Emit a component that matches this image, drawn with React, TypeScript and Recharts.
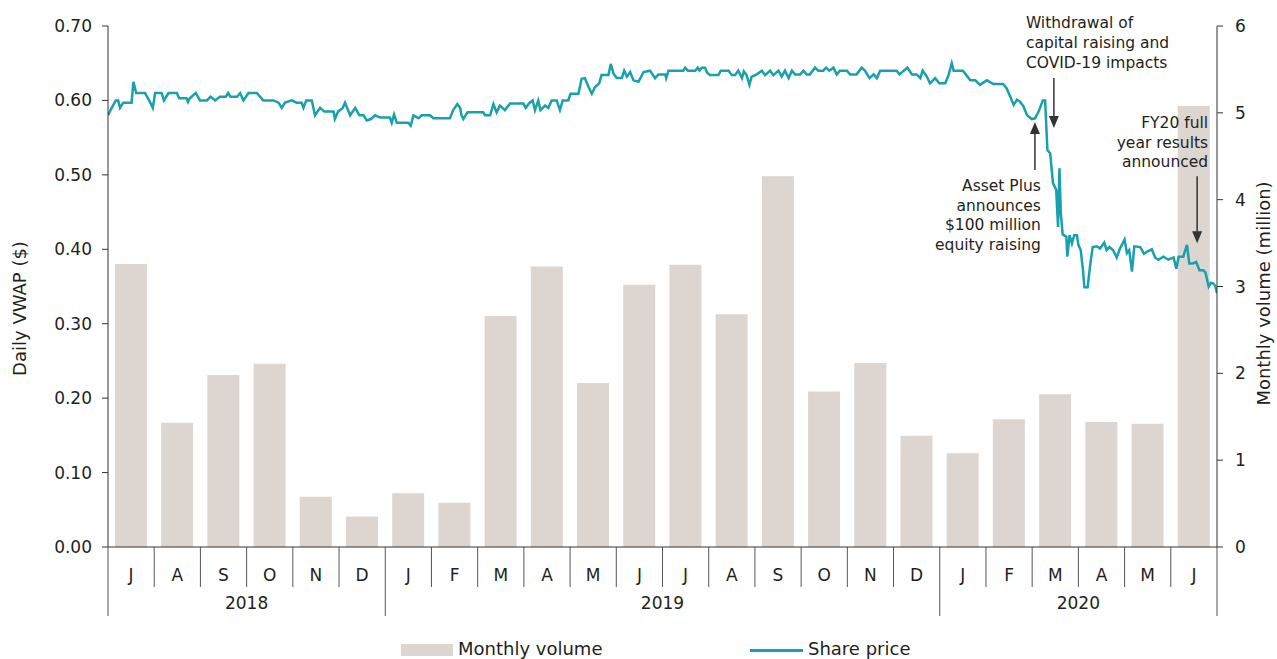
import { ComposedChart, Bar, Line, XAxis, YAxis, ReferenceDot } from "recharts";

// months Jul 2018 - Jun 2020
const monthLabels = ["J", "A", "S", "O", "N", "D", "J", "F", "M", "A", "M", "J", "J", "A", "S", "O", "N", "D", "J", "F", "M", "A", "M", "J"];
const monthYears = [2018, 2018, 2018, 2018, 2018, 2018, 2019, 2019, 2019, 2019, 2019, 2019, 2019, 2019, 2019, 2019, 2019, 2019, 2020, 2020, 2020, 2020, 2020, 2020];
// monthly volume (million shares)
const monthlyVolume = [3.26, 1.43, 1.98, 2.11, 0.58, 0.35, 0.62, 0.51, 2.66, 3.23, 1.89, 3.02, 3.25, 2.68, 4.27, 1.79, 2.12, 1.28, 1.08, 1.47, 1.76, 1.44, 1.42, 5.08];

const priceTicks = [0, 0.1, 0.2, 0.3, 0.4, 0.5, 0.6, 0.7];
const volumeTicks = [0, 1, 2, 3, 4, 5, 6];

// daily VWAP, [months since 1 Jul 2018, price]
const sharePrice: [number, number][] = [
  [0, 0.58], [0.08, 0.59], [0.17, 0.6], [0.22, 0.6], [0.26, 0.59], [0.33, 0.597], [0.51, 0.597], [0.55, 0.625],
  [0.61, 0.61], [0.8, 0.61], [0.89, 0.6], [0.97, 0.59], [1.02, 0.61], [1.16, 0.61], [1.21, 0.6], [1.31, 0.61],
  [1.49, 0.61], [1.54, 0.603], [1.7, 0.603], [1.73, 0.598], [1.77, 0.603], [1.9, 0.61], [1.99, 0.6], [2.14, 0.6],
  [2.22, 0.605], [2.32, 0.6], [2.42, 0.605], [2.55, 0.605], [2.6, 0.61], [2.65, 0.605], [2.79, 0.605], [2.86, 0.61],
  [2.93, 0.6], [3.04, 0.61], [3.22, 0.61], [3.36, 0.6], [3.58, 0.6], [3.69, 0.597], [3.76, 0.59], [3.83, 0.597],
  [3.98, 0.6], [4.08, 0.597], [4.19, 0.597], [4.23, 0.59], [4.29, 0.6], [4.41, 0.6], [4.48, 0.58], [4.59, 0.59],
  [4.68, 0.585], [4.88, 0.585], [4.91, 0.575], [4.98, 0.585], [5.08, 0.59], [5.13, 0.597], [5.24, 0.58], [5.35, 0.59],
  [5.44, 0.58], [5.53, 0.58], [5.6, 0.573], [5.69, 0.575], [5.78, 0.58], [5.89, 0.577], [6.1, 0.577], [6.14, 0.57],
  [6.19, 0.581], [6.25, 0.57], [6.5, 0.57], [6.55, 0.566], [6.61, 0.58], [6.72, 0.576], [6.79, 0.58], [6.97, 0.58],
  [7.04, 0.576], [7.4, 0.576], [7.47, 0.587], [7.56, 0.595], [7.62, 0.59], [7.65, 0.58], [7.69, 0.575], [7.78, 0.584],
  [8.12, 0.584], [8.16, 0.58], [8.27, 0.58], [8.34, 0.595], [8.41, 0.584], [8.48, 0.593], [8.59, 0.587], [8.7, 0.596],
  [8.99, 0.596], [9.04, 0.59], [9.11, 0.596], [9.19, 0.6], [9.24, 0.587], [9.31, 0.6], [9.36, 0.587], [9.46, 0.593],
  [9.53, 0.59], [9.6, 0.6], [9.71, 0.6], [9.78, 0.587], [9.84, 0.6], [9.96, 0.6], [10.01, 0.609], [10.18, 0.609],
  [10.25, 0.629], [10.32, 0.63], [10.4, 0.618], [10.47, 0.609], [10.54, 0.618], [10.63, 0.623], [10.68, 0.634], [10.83, 0.634],
  [10.88, 0.649], [10.94, 0.636], [11.01, 0.63], [11.12, 0.63], [11.17, 0.64], [11.23, 0.632], [11.3, 0.638], [11.37, 0.627],
  [11.48, 0.625], [11.59, 0.638], [11.73, 0.64], [11.84, 0.63], [11.91, 0.635], [12.06, 0.635], [12.08, 0.63], [12.13, 0.64],
  [12.45, 0.64], [12.49, 0.644], [12.55, 0.64], [12.71, 0.64], [12.76, 0.644], [12.8, 0.64], [12.85, 0.644], [12.92, 0.644],
  [12.97, 0.637], [13.03, 0.634], [13.21, 0.634], [13.26, 0.64], [13.43, 0.64], [13.5, 0.634], [13.57, 0.634], [13.64, 0.64],
  [13.72, 0.63], [13.76, 0.639], [13.82, 0.634], [13.88, 0.621], [13.93, 0.632], [14.04, 0.635], [14.15, 0.64], [14.22, 0.634],
  [14.33, 0.64], [14.4, 0.634], [14.51, 0.64], [14.58, 0.632], [14.65, 0.64], [14.73, 0.63], [14.8, 0.64], [14.87, 0.635],
  [14.98, 0.635], [15.05, 0.64], [15.12, 0.635], [15.19, 0.635], [15.3, 0.644], [15.37, 0.64], [15.48, 0.64], [15.54, 0.644],
  [15.61, 0.64], [15.7, 0.644], [15.77, 0.635], [15.84, 0.64], [15.99, 0.64], [16.06, 0.635], [16.2, 0.635], [16.31, 0.644],
  [16.38, 0.64], [16.48, 0.63], [16.57, 0.635], [16.64, 0.63], [16.71, 0.64], [17.07, 0.64], [17.13, 0.635], [17.22, 0.64],
  [17.3, 0.644], [17.4, 0.635], [17.5, 0.635], [17.58, 0.63], [17.63, 0.64], [17.72, 0.632], [17.79, 0.623], [17.9, 0.63],
  [17.99, 0.623], [18.12, 0.623], [18.19, 0.634], [18.26, 0.65], [18.3, 0.64], [18.5, 0.64], [18.55, 0.636], [18.66, 0.627],
  [18.77, 0.627], [18.87, 0.621], [19.02, 0.627], [19.16, 0.622], [19.37, 0.622], [19.45, 0.616], [19.6, 0.594], [19.67, 0.601],
  [19.74, 0.598], [19.81, 0.592], [19.89, 0.58], [19.99, 0.575], [20.06, 0.576], [20.14, 0.585], [20.23, 0.6], [20.28, 0.6],
  [20.33, 0.533], [20.39, 0.529], [20.45, 0.489], [20.52, 0.48], [20.56, 0.43], [20.59, 0.509], [20.62, 0.448], [20.66, 0.42],
  [20.74, 0.417], [20.76, 0.39], [20.81, 0.419], [20.86, 0.408], [20.91, 0.419], [20.97, 0.419], [21.0, 0.406], [21.05, 0.399],
  [21.1, 0.372], [21.13, 0.349], [21.2, 0.349], [21.26, 0.381], [21.31, 0.403], [21.4, 0.404], [21.47, 0.401], [21.56, 0.409],
  [21.61, 0.399], [21.67, 0.403], [21.75, 0.399], [21.83, 0.389], [21.9, 0.401], [22.0, 0.413], [22.05, 0.395], [22.1, 0.399],
  [22.16, 0.37], [22.21, 0.404], [22.34, 0.403], [22.42, 0.394], [22.49, 0.397], [22.59, 0.4], [22.66, 0.389], [22.73, 0.386],
  [22.84, 0.39], [22.95, 0.386], [23.06, 0.389], [23.12, 0.374], [23.17, 0.39], [23.27, 0.39], [23.35, 0.406], [23.4, 0.381],
  [23.48, 0.381], [23.55, 0.383], [23.62, 0.372], [23.7, 0.372], [23.75, 0.369], [23.82, 0.35], [23.87, 0.355], [23.92, 0.354],
  [23.96, 0.351], [24.0, 0.341],
];

// annotation anchor points (arrow tips) and text
const noteAt: [number, number][] = [[20.47, 0.563], [20.06, 0.571], [23.57, 0.408]];
const noteText = [
  ["Withdrawal of", "capital raising and", "COVID-19 impacts"],
  ["Asset Plus", "announces", "$100 million", "equity raising"],
  ["FY20 full", "year results", "announced"],
];

const FONT = "'DejaVu Sans', sans-serif";
const INK = "#231f20";
const TEAL = "#19a0ad";
const BEIGE = "#ddd5d0";
const W = 1277;
const H = 659;
const PLOT_L = 108;
const PLOT_R = 1217;
const BAND = (PLOT_R - PLOT_L) / monthLabels.length;

const volumeData = monthLabels.map((m, i) => ({ month: m, year: monthYears[i], volume: monthlyVolume[i] }));
const priceData = sharePrice.map(([t, price]) => ({ t, price }));

function MonthTick(props: any) {
  const { x, y, payload, index } = props;
  const i = index;
  const left = x - BAND / 2;
  const newYear = i === 0 || monthYears[i] !== monthYears[i - 1];
  const span = monthYears.filter((yr) => yr === monthYears[i]).length;
  const last = i === monthLabels.length - 1;
  return (
    <g>
      <line x1={left} x2={left} y1={y} y2={y + (newYear ? 69 : 40)} stroke="#555" strokeWidth={1} />
      {last && <line x1={left + BAND} x2={left + BAND} y1={y} y2={y + 69} stroke="#555" strokeWidth={1} />}
      <text x={x} y={y + 34} textAnchor="middle" fontSize={17} fill={INK} fontFamily={FONT}>
        {payload.value}
      </text>
      {newYear && (
        <text x={left + (span * BAND) / 2} y={y + 62} textAnchor="middle" fontSize={17} fill={INK} fontFamily={FONT}>
          {monthYears[i]}
        </text>
      )}
    </g>
  );
}

function Note(idx: number) {
  return (p: any) => {
    const { cx, cy } = p;
    const lines = noteText[idx];
    const txt = (s: string, k: number, x: number, y: number, anchor: string) => (
      <text key={k} x={x} y={y} textAnchor={anchor} fontSize={15.5} fill={INK} fontFamily={FONT}>
        {s}
      </text>
    );
    if (idx === 0) {
      return (
        <g>
          {lines.map((s, k) => txt(s, k, cx - 28, cy - 100 + k * 20, "start"))}
          <line x1={cx} x2={cx} y1={cy - 50} y2={cy - 10} stroke="#333" strokeWidth={1.5} />
          <path d={`M${cx - 5},${cy - 12} L${cx + 5},${cy - 12} L${cx},${cy} Z`} fill="#333" />
        </g>
      );
    }
    if (idx === 1) {
      return (
        <g>
          {lines.map((s, k) => txt(s, k, cx + 6, cy + 69 + k * 19.7, "end"))}
          <line x1={cx} x2={cx} y1={cy + 48} y2={cy + 10} stroke="#333" strokeWidth={1.5} />
          <path d={`M${cx - 5},${cy + 12} L${cx + 5},${cy + 12} L${cx},${cy} Z`} fill="#333" />
        </g>
      );
    }
    return (
      <g>
        {lines.map((s, k) => txt(s, k, cx + 11, cy - 115 + k * 19.5, "end"))}
        <line x1={cx} x2={cx} y1={cy - 67} y2={cy - 10} stroke="#333" strokeWidth={1.5} />
        <path d={`M${cx - 5},${cy - 12} L${cx + 5},${cy - 12} L${cx},${cy} Z`} fill="#333" />
      </g>
    );
  };
}

const tickStyle = { fontSize: 17, fill: INK, fontFamily: FONT };

export default function App() {
  return (
    <div style={{ position: "absolute", left: 0, top: 0, width: W, height: H, fontFamily: FONT, background: "#fff" }}>
      <ComposedChart
        width={W}
        height={H}
        data={volumeData}
        margin={{ top: 26, right: 0, bottom: 42, left: 0 }}
        barCategoryGap="15%"
      >
        <XAxis
          xAxisId="m"
          dataKey="month"
          interval={0}
          height={70}
          tickLine={false}
          tickSize={0}
          tickMargin={0}
          axisLine={{ stroke: "#333" }}
          tick={<MonthTick />}
        />
        <XAxis xAxisId="t" type="number" dataKey="t" domain={[0, 24]} hide allowDataOverflow />
        <YAxis
          yAxisId="left"
          domain={[0, 0.7]}
          ticks={priceTicks}
          tickFormatter={(v: number) => v.toFixed(2)}
          width={PLOT_L}
          tickSize={6}
          tickMargin={10}
          axisLine={{ stroke: "#333" }}
          tickLine={{ stroke: "#333" }}
          tick={tickStyle}
          label={{
            content: ({ viewBox }: any) => (
              <text
                transform={`translate(${viewBox.x + 26},${viewBox.y + viewBox.height / 2 + 22}) rotate(-90)`}
                textAnchor="middle"
                fontSize={18}
                fill={INK}
                fontFamily={FONT}
              >
                Daily VWAP ($)
              </text>
            ),
          }}
        />
        <YAxis
          yAxisId="right"
          orientation="right"
          domain={[0, 6]}
          ticks={volumeTicks}
          width={W - PLOT_R}
          tickSize={6}
          tickMargin={12}
          axisLine={{ stroke: "#333" }}
          tickLine={{ stroke: "#333" }}
          tick={tickStyle}
          label={{
            content: ({ viewBox }: any) => (
              <text
                transform={`translate(${viewBox.x + 53},${viewBox.y + viewBox.height / 2 + 7}) rotate(-90)`}
                textAnchor="middle"
                fontSize={18}
                fill={INK}
                fontFamily={FONT}
              >
                Monthly volume (million)
              </text>
            ),
          }}
        />
        <Bar xAxisId="m" yAxisId="right" dataKey="volume" name="Monthly volume" fill={BEIGE} isAnimationActive={false} />
        <Line
          xAxisId="t"
          yAxisId="left"
          data={priceData}
          dataKey="price"
          name="Share price"
          type="linear"
          stroke={TEAL}
          strokeWidth={2.5}
          dot={false}
          activeDot={false}
          isAnimationActive={false}
        />
        {noteAt.map(([t, v], i) => (
          <ReferenceDot key={i} xAxisId="t" yAxisId="left" x={t} y={v} ifOverflow="visible" shape={Note(i)} />
        ))}
      </ComposedChart>
      <div style={{ position: "absolute", left: 401, top: 644, width: 52, height: 12, background: BEIGE }} />
      <div style={{ position: "absolute", left: 458, top: 640, fontSize: 18, color: INK, lineHeight: "18px" }}>Monthly volume</div>
      <div style={{ position: "absolute", left: 750, top: 649, width: 53, height: 3, background: TEAL }} />
      <div style={{ position: "absolute", left: 808, top: 640, fontSize: 18, color: INK, lineHeight: "18px" }}>Share price</div>
    </div>
  );
}
